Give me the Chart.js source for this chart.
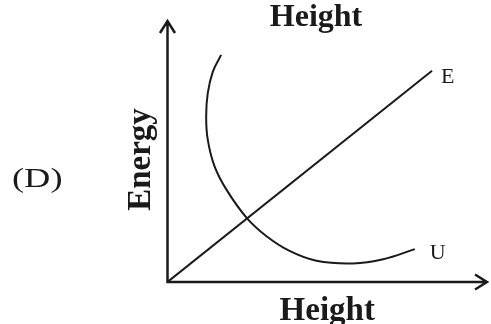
<!DOCTYPE html>
<html>
<head>
<meta charset="utf-8">
<title>Energy vs Height</title>
<script src="https://cdn.jsdelivr.net/npm/chart.js@4.4.1/dist/chart.umd.min.js"></script>
<style>
    html, body { margin: 0; padding: 0; background: #fff; }
    #chart-wrap { width: 491px; height: 324px; }
</style>
</head>
<body>
<div id="chart-wrap"><canvas id="chart-1" width="491" height="324"></canvas></div>
<script>
const chart1 = document.getElementById('chart-1').getContext('2d');

// curve E: straight line from the origin
const eHeight = [0, 8.28];
const eEnergy = [0, 8.62];

// curve U
const uHeight = [1.68, 1.42, 1.26, 1.21, 1.26, 1.47, 1.84, 2.47, 3.09, 3.82, 4.66, 5.81, 6.75, 7.74];
const uEnergy = [9.27, 8.59, 7.71, 6.76, 5.81, 4.73, 3.78, 2.63, 1.88, 1.27, 0.87, 0.76, 0.93, 1.34];

const curveNames = ['E', 'U'];
const panelLabel = '(D)';
const chartTitle = 'Height';
const xTitle = 'Height';
const yTitle = 'Energy';

const ink = '#1a1a1a';
const serif = "'Liberation Serif', 'Times New Roman', serif";
const labelOffsets = [[9, 12], [15, 10]];

function toPoints(xs, ys) {
    return xs.map((x, i) => ({ x: x, y: ys[i] }));
}

// axes with open arrow heads, plus the loose text on the sketch
const sketchMarks = {
    id: 'sketchMarks',
    beforeDatasetsDraw(chart) {
        const { ctx, chartArea, scales } = chart;
        const x0 = scales.x.getPixelForValue(0);
        const y0 = scales.y.getPixelForValue(0);
        const topTip = chartArea.top - 16;
        const rightTip = chartArea.right;

        ctx.save();
        ctx.strokeStyle = ink;
        ctx.lineWidth = 2.5;
        ctx.beginPath();
        ctx.moveTo(x0, topTip);
        ctx.lineTo(x0, y0);
        ctx.lineTo(rightTip, y0);
        ctx.moveTo(x0 - 7.5, topTip + 12);
        ctx.lineTo(x0, topTip);
        ctx.lineTo(x0 + 7.5, topTip + 12);
        ctx.moveTo(rightTip - 12, y0 - 7.5);
        ctx.lineTo(rightTip, y0);
        ctx.lineTo(rightTip - 12, y0 + 7.5);
        ctx.stroke();
        ctx.restore();
    },
    afterDraw(chart) {
        const { ctx } = chart;
        ctx.save();
        ctx.fillStyle = ink;

        ctx.font = 'bold 32px ' + serif;
        ctx.textAlign = 'center';
        ctx.textBaseline = 'alphabetic';
        ctx.fillText(chartTitle, 316, 26);

        ctx.font = '22px ' + serif;
        ctx.textAlign = 'left';
        chart.data.datasets.forEach((ds, i) => {
            const pts = chart.getDatasetMeta(i).data;
            const last = pts[pts.length - 1];
            ctx.fillText(curveNames[i], last.x + labelOffsets[i][0], last.y + labelOffsets[i][1]);
        });

        // the panel letter is set wide in the original
        ctx.font = '28px ' + serif;
        ctx.translate(12, 187);
        ctx.scale(1.3, 1);
        ctx.fillText(panelLabel, 0, 0);
        ctx.restore();
    }
};

const axisTitleFont = { family: serif, size: 33, weight: 'bold', lineHeight: 1 };

var energyChart = new Chart(chart1, {
    type: 'scatter',
    data: {
        datasets: [{
            label: curveNames[0],
            data: toPoints(eHeight, eEnergy),
            showLine: true,
            borderColor: ink,
            borderWidth: 2,
            pointRadius: 0,
            tension: 0
        }, {
            label: curveNames[1],
            data: toPoints(uHeight, uEnergy),
            showLine: true,
            borderColor: ink,
            borderWidth: 2,
            pointRadius: 0,
            tension: 0.4
        }]
    },
    options: {
        responsive: false,
        animation: false,
        layout: {
            padding: { left: 125, right: 4, top: 37, bottom: 0 }
        },
        plugins: {
            legend: { display: false },
            tooltip: { enabled: false }
        },
        scales: {
            x: {
                type: 'linear',
                min: 0,
                max: 10,
                ticks: { display: false },
                grid: { display: false, drawTicks: false },
                border: { display: false },
                title: {
                    display: true,
                    text: xTitle,
                    color: ink,
                    font: axisTitleFont,
                    padding: { top: 13, bottom: -4 }
                }
            },
            y: {
                type: 'linear',
                min: 0,
                max: 10,
                ticks: { display: false },
                grid: { display: false, drawTicks: false },
                border: { display: false },
                title: {
                    display: true,
                    text: yTitle,
                    color: ink,
                    font: axisTitleFont,
                    padding: { top: 0, bottom: 9.5 }
                }
            }
        }
    },
    plugins: [sketchMarks]
});
</script>
</body>
</html>
